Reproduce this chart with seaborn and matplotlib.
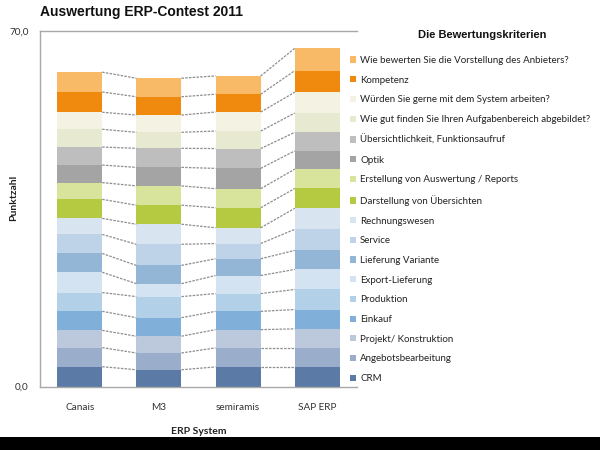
import matplotlib
matplotlib.use("Agg")
import matplotlib.pyplot as plt
import seaborn as sns
import numpy as np
from matplotlib.patches import Patch, Rectangle

systems = ["Canais", "M3", "semiramis", "SAP ERP"]

# criteria, top of stack first (legend order)
criteria = [
    "Wie bewerten Sie die Vorstellung des Anbieters?",
    "Kompetenz",
    "Würden Sie gerne mit dem System arbeiten?",
    "Wie gut finden Sie Ihren Aufgabenbereich abgebildet?",
    "Übersichtlichkeit, Funktionsaufruf",
    "Optik",
    "Erstellung von Auswertung / Reports",
    "Darstellung von Übersichten",
    "Rechnungswesen",
    "Service",
    "Lieferung Variante",
    "Export-Lieferung",
    "Produktion",
    "Einkauf",
    "Projekt/ Konstruktion",
    "Angebotsbearbeitung",
    "CRM",
]

colors = [
    "#F9BA68", "#F08A0E", "#F4F3E3", "#E8E9D1", "#BEBEBE", "#A4A4A4",
    "#D8E39B", "#B5C941", "#D8E5F1", "#BED3E8", "#93B5D6", "#D3E3F1",
    "#B3D0E9", "#80B0DA", "#BCC9DC", "#9AAECB", "#5B7AA5",
]

# points per criterion, same order as criteria
canais = [3.9, 4.0, 3.35, 3.5, 3.55, 3.45, 3.3, 3.75, 3.15, 3.75, 3.7, 4.0, 3.7, 3.75, 3.4, 3.75, 3.9]
m3 = [3.65, 3.6, 3.4, 3.15, 3.75, 3.65, 3.8, 3.75, 3.95, 4.15, 3.6, 2.55, 4.15, 3.65, 3.3, 3.3, 3.3]
semiramis = [3.6, 3.5, 3.75, 3.45, 3.9, 4.0, 3.75, 3.95, 3.1, 3.0, 3.3, 3.55, 3.5, 3.6, 3.6, 3.75, 3.85]
sap_erp = [4.4, 4.25, 4.1, 3.8, 3.65, 3.6, 3.8, 3.9, 4.15, 4.15, 3.75, 3.95, 3.95, 3.8, 3.75, 3.75, 3.85]

sns.set_theme(style="white")
plt.rcParams["font.family"] = ["Lato", "DejaVu Sans"]

values = np.array([canais, m3, semiramis, sap_erp])  # systems x criteria
bar_w = 0.57

fig = plt.figure(figsize=(6, 4.5), dpi=100)
ax = fig.add_axes([40 / 600, 1 - 386.5 / 450, 317 / 600, 355.5 / 450])

# stack from the bottom (CRM) upwards
bottom = np.zeros(len(systems))
levels = []
for i in range(len(criteria) - 1, -1, -1):
    sns.barplot(x=systems, y=values[:, i], bottom=bottom, color=colors[i],
                width=bar_w, saturation=1, errorbar=None, ax=ax, linewidth=0)
    bottom = bottom + values[:, i]
    levels.append(bottom.copy())

# dashed series lines between bars
for lv in levels:
    for j in range(len(systems) - 1):
        ax.plot([j + bar_w / 2, j + 1 - bar_w / 2], [lv[j], lv[j + 1]],
                ls=(0, (2, 1)), color="#8E8E8E", lw=0.9, zorder=3)

ax.set_xlim(-0.5, 3.5)
ax.set_ylim(0, 70)
ax.set_yticks([0, 70])
ax.set_yticklabels(["0,0", "70,0"])
ax.tick_params(axis="both", length=0, labelsize=7.2, colors="#333333")
ax.tick_params(axis="x", pad=12)
ax.tick_params(axis="y", pad=8)
for s in ["left", "bottom", "top"]:
    ax.spines[s].set_color("#A8A8A8")
    ax.spines[s].set_linewidth(1.0)
ax.spines["right"].set_visible(False)

ax.set_xlabel("ERP System", fontsize=7.5, fontweight="bold", color="#222222")
ax.xaxis.set_label_coords(0.5, -0.115)
ax.set_ylabel("Punktzahl", fontsize=7.5, fontweight="bold", color="#222222")
ax.yaxis.set_label_coords(-0.068, 0.53)

fig.text(40 / 600, 1 - 12 / 450, "Auswertung ERP-Contest 2011", fontsize=10,
         fontweight="bold", family="Liberation Sans", va="center", ha="left", color="#111111")
fig.text(482 / 600, 1 - 35 / 450, "Die Bewertungskriterien", fontsize=8,
         fontweight="bold", family="Liberation Sans", va="center", ha="center", color="#111111")

handles = [Patch(facecolor=c, edgecolor="none") for c in colors]
fig.legend(handles, criteria, loc="upper left", bbox_to_anchor=(350 / 600, 1 - 56 / 450),
           frameon=False, fontsize=7, labelspacing=1.1, handlelength=0.6,
           handleheight=0.6, handletextpad=0.45, borderpad=0, borderaxespad=0,
           labelcolor="#222222")

# black strip at the bottom of the picture
fig.patches.append(Rectangle((0, 0), 1, 13 / 450, transform=fig.transFigure,
                             facecolor="black", edgecolor="none"))

fig.savefig("out.png", dpi=100)
